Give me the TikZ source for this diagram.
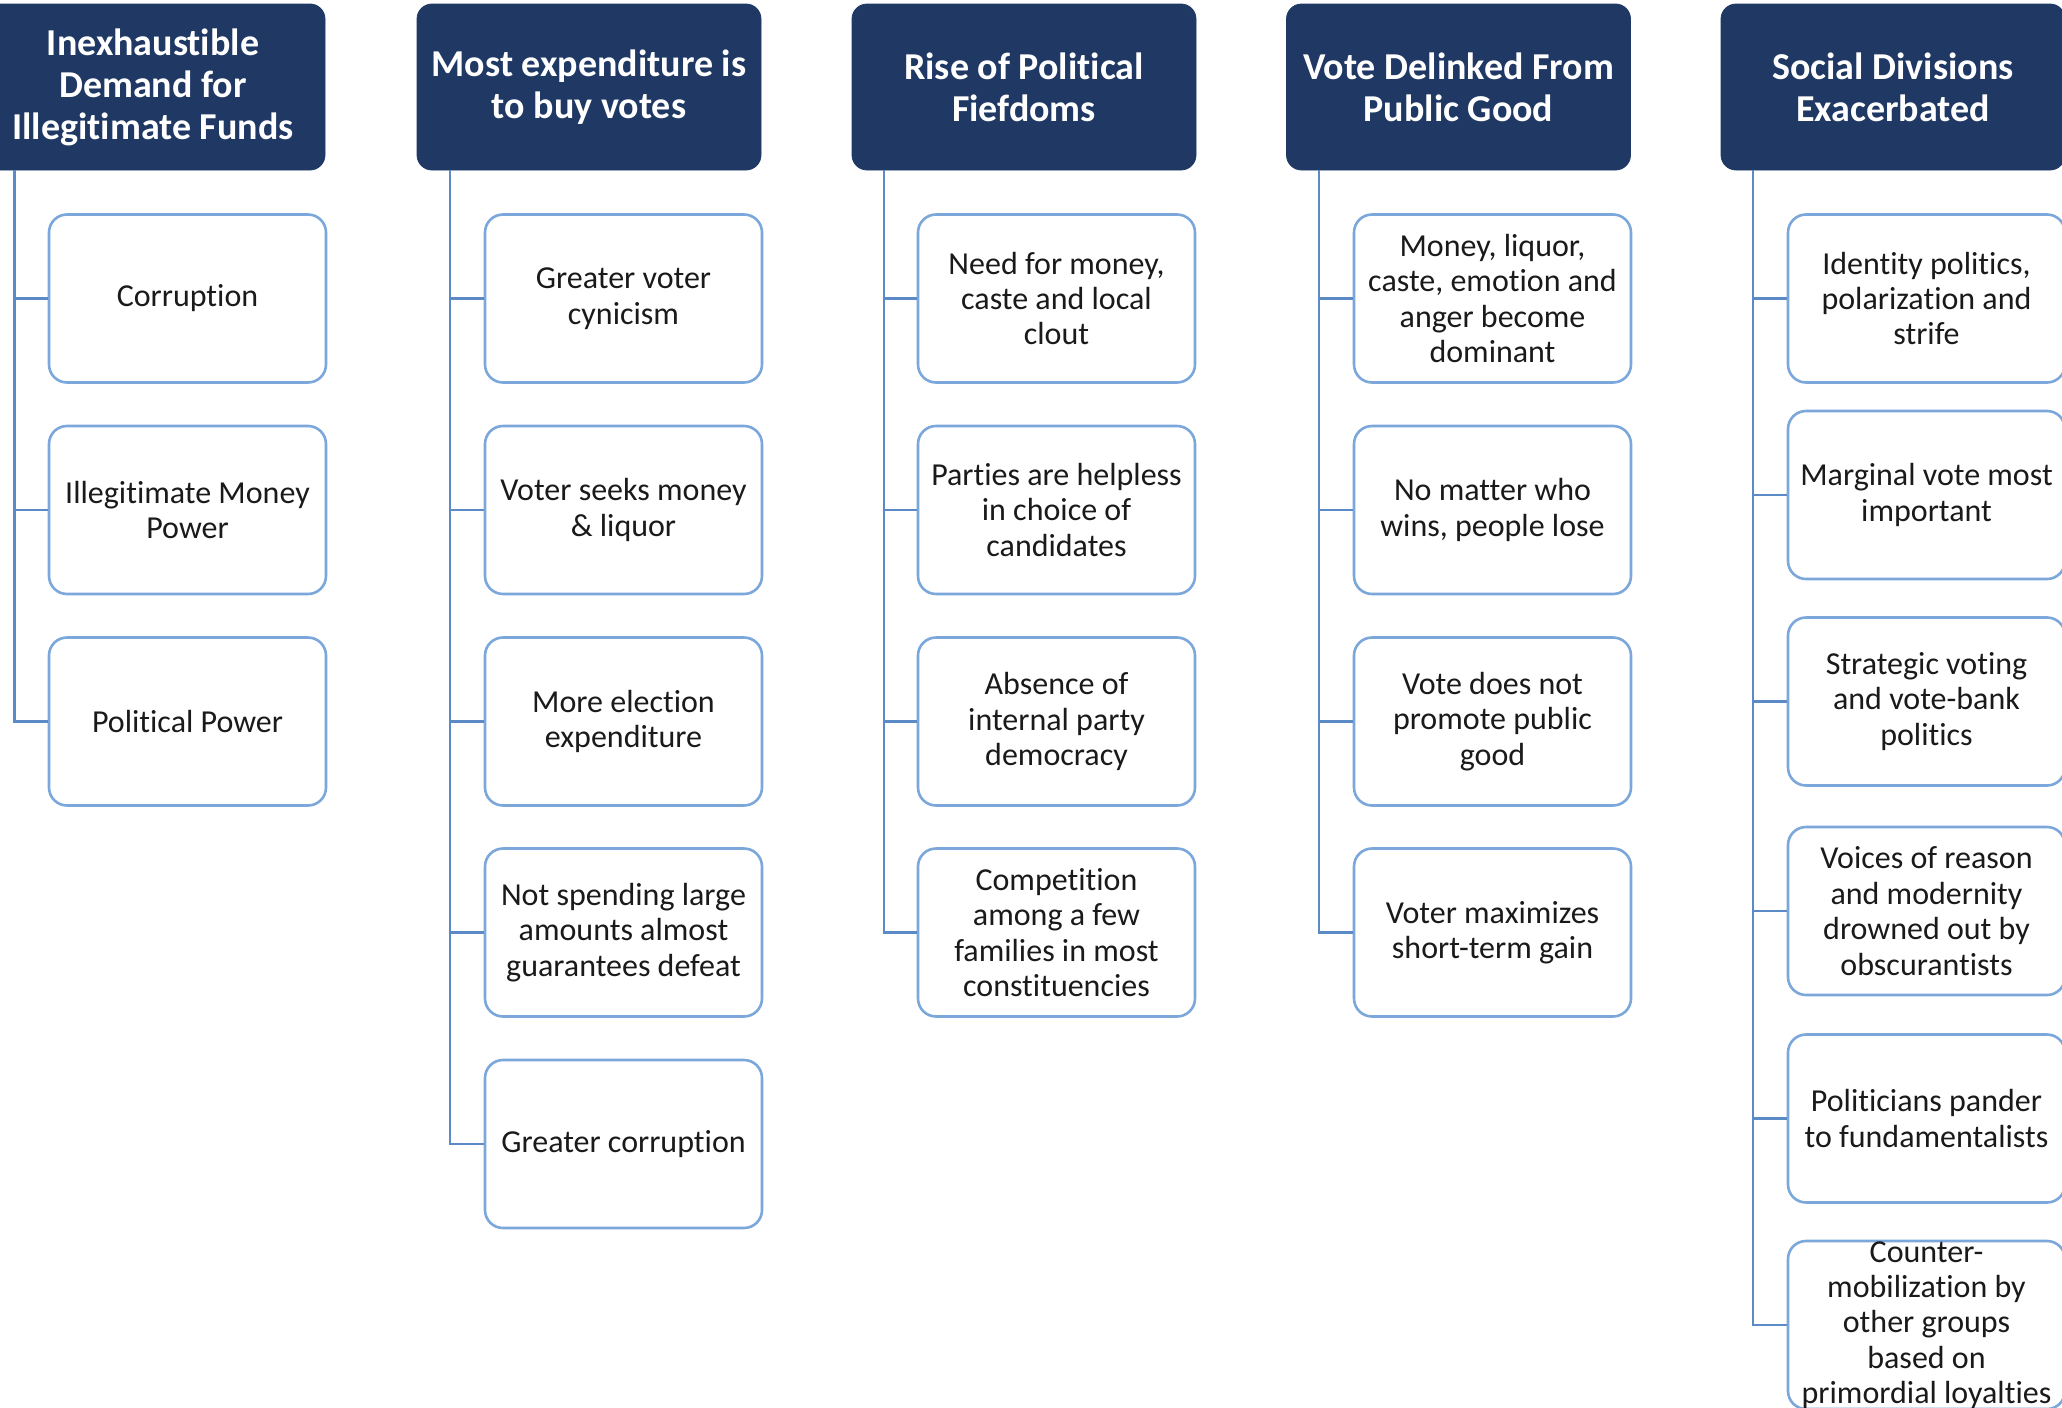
\documentclass[tikz,border=0pt]{standalone}
\usepackage{fontspec}
\setmainfont{Carlito}[Ligatures=NoCommon]
\definecolor{navy}{HTML}{1F3864}
\definecolor{linec}{HTML}{5B8BC7}
\definecolor{boxc}{HTML}{7BA7DB}
\definecolor{txt}{HTML}{1A1A1A}
\begin{document}
\begin{tikzpicture}[x=0.5pt,y=-0.5pt,
  header/.style={fill=navy, draw=navy, rounded corners=7.5pt, minimum width=172pt, minimum height=83pt, inner sep=0pt, text=white, align=center, font=\bfseries\fontsize{19}{21}\selectfont},
  childbox/.style={draw=boxc, line width=1.3pt, fill=white, rounded corners=9pt, minimum width=138.5pt, minimum height=84pt, inner sep=0pt, align=center, text=txt, font=\fontsize{16}{17.7}\selectfont},
  conn/.style={draw=linec, line width=1.4pt}]
\useasboundingbox (0,0) rectangle (2062,1408);
\clip (0,0) rectangle (2062,1408);

% headers
\node[header] (h1) at (153,87) {Inexhaustible\\Demand for\\Illegitimate Funds};
\node[header] (h2) at (589,87) {Most expenditure is\\to buy votes};
\node[header] (h3) at (1024,87) {Rise of Political\\Fiefdoms};
\node[header] (h4) at (1458.5,87) {Vote Delinked From\\Public Good};
\node[header] (h5) at (1893,87) {Social Divisions\\Exacerbated};

% trunk tops
\coordinate (t1) at (14.5,170);
\coordinate (t2) at (450,170);
\coordinate (t3) at (884,170);
\coordinate (t4) at (1319,170);
\coordinate (t5) at (1753,170);

% column 1
\node[childbox] (c11) at (187.5,298.5) {Corruption};
\node[childbox] (c12) at (187.5,510) {Illegitimate Money\\Power};
\node[childbox] (c13) at (187.5,721.5) {Political Power};

% column 2
\node[childbox] (c21) at (623.5,298.5) {Greater voter\\cynicism};
\node[childbox] (c22) at (623.5,510) {Voter seeks money\\\& liquor};
\node[childbox] (c23) at (623.5,721.5) {More election\\expenditure};
\node[childbox] (c24) at (623.5,932.5) {Not spending large\\amounts almost\\guarantees defeat};
\node[childbox] (c25) at (623.5,1144) {Greater corruption};

% column 3
\node[childbox] (c31) at (1056.5,298.5) {Need for money,\\caste and local\\clout};
\node[childbox] (c32) at (1056.5,510) {Parties are helpless\\in choice of\\candidates};
\node[childbox] (c33) at (1056.5,721.5) {Absence of\\internal party\\democracy};
\node[childbox] (c34) at (1056.5,932.5) {Competition\\among a few\\families in most\\constituencies};

% column 4
\node[childbox] (c41) at (1492.5,298.5) {Money, liquor,\\caste, emotion and\\anger become\\dominant};
\node[childbox] (c42) at (1492.5,510) {No matter who\\wins, people lose};
\node[childbox] (c43) at (1492.5,721.5) {Vote does not\\promote public\\good};
\node[childbox] (c44) at (1492.5,932.5) {Voter maximizes\\short-term gain};

% column 5
\node[childbox] (c51) at (1926.5,298.5) {Identity politics,\\polarization and\\strife};
\node[childbox] (c52) at (1926.5,495) {Marginal vote most\\important};
\node[childbox] (c53) at (1926.5,701.5) {Strategic voting\\and vote-bank\\politics};
\node[childbox] (c54) at (1926.5,911) {Voices of reason\\and modernity\\drowned out by\\obscurantists};
\node[childbox] (c55) at (1926.5,1118.5) {Politicians pander\\to fundamentalists};
\node[childbox] (c56) at (1926.5,1325) {Counter-\\mobilization by\\other groups\\based on\\primordial loyalties};

% connectors
\draw[conn] (t1) |- (c13.west);
\foreach \c in {c11,c12} \draw[conn] (\c.west) -- (\c.west -| t1);
\draw[conn] (t2) |- (c25.west);
\foreach \c in {c21,c22,c23,c24} \draw[conn] (\c.west) -- (\c.west -| t2);
\draw[conn] (t3) |- (c34.west);
\foreach \c in {c31,c32,c33} \draw[conn] (\c.west) -- (\c.west -| t3);
\draw[conn] (t4) |- (c44.west);
\foreach \c in {c41,c42,c43} \draw[conn] (\c.west) -- (\c.west -| t4);
\draw[conn] (t5) |- (c56.west);
\foreach \c in {c51,c52,c53,c54,c55} \draw[conn] (\c.west) -- (\c.west -| t5);
\end{tikzpicture}
\end{document}
